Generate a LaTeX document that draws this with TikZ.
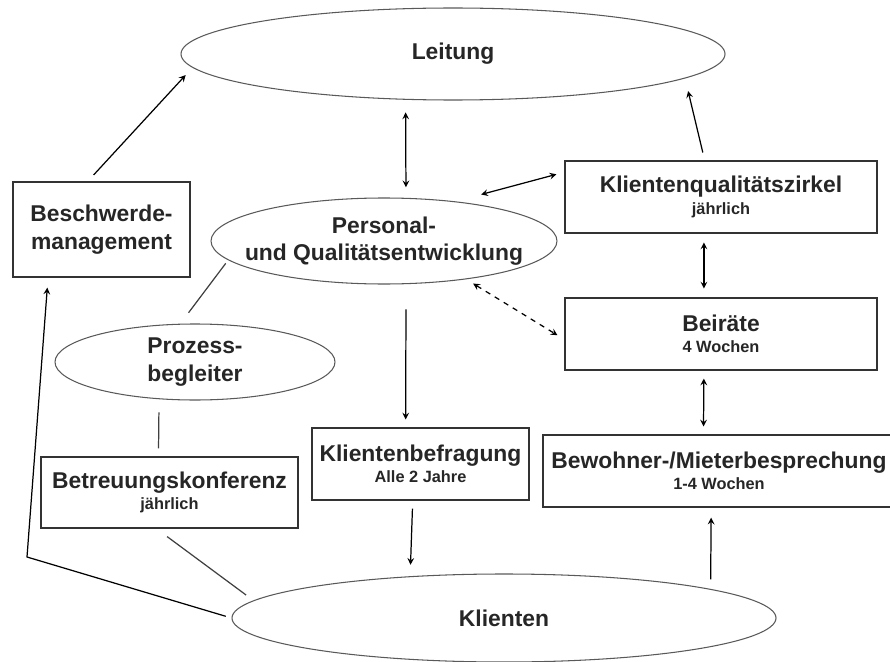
\documentclass[tikz,border=0pt]{standalone}
\usepackage{fontspec}
\setmainfont{Liberation Sans}
\usetikzlibrary{shapes.geometric}
\newcommand{\turnus}[1]{{\fontsize{9.3}{11}\selectfont #1}}

\begin{document}
\begin{tikzpicture} [x=0.2mm,y=-0.2mm,line width=0.7pt,
	every node/.style={font=\bfseries\fontsize{13}{15.6}\selectfont,align=center,text=black!85},
	oval/.style={ellipse,draw=black!65,line width=0.6pt,inner xsep=-20pt,inner ysep=0pt},
	box/.style={rectangle,draw=black!80,inner sep=0pt}]
	\useasboundingbox (0,0) rectangle (890,662);
	\node [oval,minimum width=10.88cm,minimum height=1.84cm] (lead) at (453,54) {Leitung};
	\node [oval,minimum width=6.92cm,minimum height=1.72cm] (pers) at (384,241) {Personal-\\und Qualitätsentwicklung};
	\node [oval,minimum width=5.6cm,minimum height=1.52cm] (proz) at (195,362) {Prozess-\\begleiter};
	\node [oval,minimum width=10.88cm,minimum height=1.76cm] (klient) at (504,618) {Klienten};
	\node [box,minimum width=3.54cm,minimum height=1.9cm] (besch) at (101.5,229.5) {Beschwerde-\\management};
	\node [box,minimum width=6.24cm,minimum height=1.44cm] (kqz) at (721,197) {Klientenqualitätszirkel\\[-3.4pt]\turnus{jährlich}};
	\node [box,minimum width=6.24cm,minimum height=1.44cm] (beir) at (721,334) {Beiräte\\[-3.4pt]\turnus{4 Wochen}};
	\node [box,minimum width=4.34cm,minimum height=1.44cm] (befr) at (420.5,464) {Klientenbefragung\\[-3.4pt]\turnus{Alle 2 Jahre}};
	\node [box,minimum width=7.04cm,minimum height=1.44cm] (bew) at (719,471) {Bewohner-/Mieterbesprechung\\[-3.4pt]\turnus{1-4 Wochen}};
	\node [box,minimum width=5.14cm,minimum height=1.42cm] (betr) at (169.5,492.5) {Betreuungskonferenz\\[-3.4pt]\turnus{jährlich}};
	\coordinate (knick) at (27,557);
	% einfache Pfeile
	\foreach \from/\to/\sa/\sb in {besch.106/lead.183/5/5.7,pers.297/befr.112/14.4/4.5,befr.258/klient.156/4.5/6.5,klient.8/bew.258/5.4/5.7,kqz.114/lead.354/4.6/7.4}
		\draw [-stealth,shorten <=\sa pt,shorten >=\sb pt] (\from) -- (\to);
	% Doppelpfeile
	\foreach \from/\to/\sa/\sb in {lead.224/pers.63/7.2/6,pers.29/kqz.171/15.1/4.7,kqz.245/beir.115/5/5,beir.245/bew.113/4.5/4.5}
		\draw [stealth-stealth,shorten <=\sa pt,shorten >=\sb pt] (\from) -- (\to);
	\draw [stealth-stealth,dashed,shorten <=4.6pt,shorten >=4.6pt] (pers.335) -- (beir.182);
	% Linien ohne Pfeil
	\foreach \from/\to/\sa/\sb in {pers.187/proz.111/2.3/7.8,proz.226/betr.107/7.5/4.5,betr.250/klient.176/7.6/5.2}
		\draw [black!75,shorten <=\sa pt,shorten >=\sb pt] (\from) -- (\to);
	\draw [-stealth,shorten <=3.4pt,shorten >=5.7pt] (klient.west) -- (knick) -- (besch.222);
\end{tikzpicture}
\end{document}
